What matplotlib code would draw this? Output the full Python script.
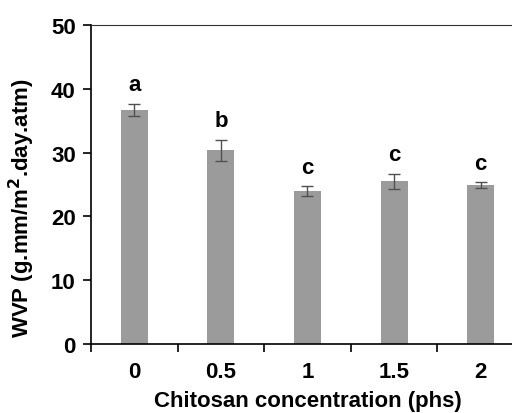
import numpy as np
import matplotlib.pyplot as plt

# données
concentrations = ["0", "0.5", "1", "1.5", "2"]
wvp = [36.7, 30.4, 24.0, 25.5, 24.9]
erreurs = [0.95, 1.65, 0.75, 1.2, 0.5]
lettres = ["a", "b", "c", "c", "c"]

plt.rcParams['font.family'] = ['Liberation Sans', 'DejaVu Sans']
plt.rcParams['font.weight'] = 'bold'
taille = 16

fig = plt.figure(figsize=(5.12, 4.14), dpi=100)
ax = fig.add_axes([0.1777, 0.1667, 0.8457, 0.7705])

x = np.arange(len(concentrations))
ax.bar(x, wvp, width=0.31, color='#9b9b9b', zorder=2)
ax.errorbar(x, wvp, yerr=erreurs, fmt='none', ecolor='#505050',
            elinewidth=1, capsize=4, capthick=1, zorder=3)

# lettres de significativité
for xi, v, e, l in zip(x, wvp, erreurs, lettres):
    ax.annotate(l, (xi, v + e), xytext=(0, 6), textcoords='offset points',
                ha='center', va='bottom', fontsize=taille, fontweight='bold')

ax.set_xlim(-0.5, 4.5)
ax.set_ylim(0, 50)
ax.set_yticks([0, 10, 20, 30, 40, 50])
ax.set_xticks(np.arange(-0.5, 5, 1))
ax.set_xticklabels([])
ax.set_xticks(x, minor=True)
ax.set_xticklabels(concentrations, minor=True)
ax.tick_params(axis='x', which='major', direction='out', length=6, width=1.2)
ax.tick_params(axis='x', which='minor', length=0, pad=12, labelsize=taille)
ax.tick_params(axis='y', direction='out', length=6, width=1.2, pad=5, labelsize=taille)
for lab in ax.get_xticklabels(minor=True) + ax.get_yticklabels():
    lab.set_fontweight('bold')

ax.spines['right'].set_visible(False)
ax.spines['left'].set_linewidth(1.2)
ax.spines['bottom'].set_linewidth(1.2)
ax.spines['top'].set_color('#333333')
ax.set_xlabel("Chitosan concentration (phs)", fontsize=taille, fontweight='bold', labelpad=6)
ax.set_ylabel("WVP (g.mm/m$^{\\mathbf{2}}$.day.atm)", fontsize=taille, fontweight='bold')
ax.yaxis.set_label_coords(-0.125, 0.43)

fig.savefig("out.png", dpi=100)
